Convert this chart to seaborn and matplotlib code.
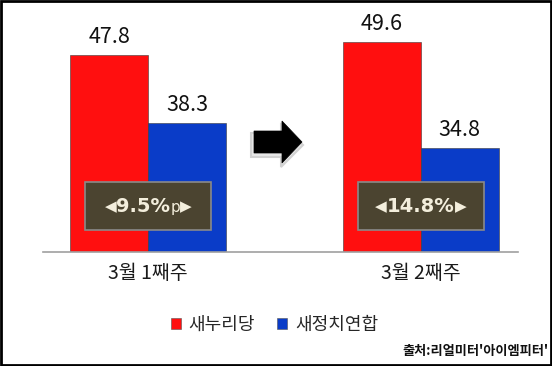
import matplotlib
matplotlib.use("Agg")
import matplotlib.pyplot as plt
import matplotlib.patches as mpatches
from matplotlib.offsetbox import TextArea, HPacker, AnnotationBbox
import seaborn as sns
import pandas as pd

# ---- data ----
weeks = ["3월 1째주", "3월 2째주"]
parties = ["새누리당", "새정치연합"]
saenuri = [47.8, 49.6]
saejeongchi = [38.3, 34.8]
gap_values = ["9.5%", "14.8%"]
gap_units = ["p", ""]
source_text = "출처:리얼미터'아이엠피터'"
colors = ["#FF0F0F", "#0A3CC8"]

df = pd.DataFrame({
    "week": weeks * 2,
    "party": [parties[0]] * 2 + [parties[1]] * 2,
    "value": saenuri + saejeongchi,
})

sns.set_theme(style="white")
plt.rcParams["font.family"] = ["Noto Sans CJK KR", "DejaVu Sans"]

fig = plt.figure(figsize=(5.52, 3.66), dpi=100)
ax = fig.add_axes([0.078, 0.311, 0.86, 0.64])

sns.barplot(data=df, x="week", y="value", hue="party", order=weeks,
            hue_order=parties, palette=colors, width=0.57, saturation=1,
            edgecolor="#3a3a3a", linewidth=0.4, ax=ax, legend=True)

ax.set_ylim(20.3, 53)
ax.set_xlim(-0.385, 1.355)
ax.set_xlabel("")
ax.set_ylabel("")
ax.set_yticks([])
for s in ["left", "right", "top"]:
    ax.spines[s].set_visible(False)
ax.spines["bottom"].set_color("#a0a0a0")
ax.spines["bottom"].set_linewidth(1.2)
ax.tick_params(axis="x", which="major", length=0, pad=8, labelsize=14,
               colors="#1a1a1a")
for lab in ax.get_xticklabels():
    lab.set_fontweight("medium")
ax.set_xticks([0.5], minor=True)
ax.tick_params(axis="x", which="minor", length=4, width=1, color="#a0a0a0",
               direction="out")

# value labels
for cont in ax.containers:
    ax.bar_label(cont, fmt="%.1f", padding=5, fontsize=15.5, color="#111111")

# gap boxes
bw = 126 / 273.0
bh = 48 / 7.16
txtc = "#F3EEDC"
for i, (val, unit) in enumerate(zip(gap_values, gap_units)):
    cy = 26.7
    rect = mpatches.Rectangle((i - bw / 2, cy - bh / 2), bw, bh,
                              facecolor="#4B4430", edgecolor="#8a8a8a",
                              linewidth=1.2, zorder=5)
    ax.add_patch(rect)
    inner = [TextArea(val, textprops=dict(fontsize=14, color=txtc,
                                          fontweight="bold",
                                          family=["DejaVu Sans"]))]
    if unit:
        inner.append(TextArea(unit, textprops=dict(fontsize=11, color=txtc,
                                                   family=["DejaVu Sans"])))
    mid = HPacker(children=inner, align="baseline", pad=0, sep=0)
    tri = dict(fontsize=11, color=txtc, family=["DejaVu Sans"])
    pack = HPacker(children=[TextArea("◀", textprops=tri), mid,
                             TextArea("▶", textprops=tri)],
                   align="center", pad=0, sep=0)
    ab = AnnotationBbox(pack, (i, cy), xycoords="data", frameon=False,
                        box_alignment=(0.5, 0.5), zorder=6)
    ax.add_artist(ab)

# arrow between groups (figure coords)
def fx(px):
    return px / 552.0

def fy(py):
    return 1 - py / 366.0

shadow = mpatches.FancyArrow(fx(251), fy(145), fx(303) - fx(251), 0,
                             width=(24 / 366.0), head_width=(44 / 366.0),
                             head_length=fx(22), length_includes_head=True,
                             transform=fig.transFigure, facecolor="#e8e8e8",
                             edgecolor="#d2d2d2", linewidth=1.5, zorder=3)
fig.patches.append(shadow)
arrow = mpatches.FancyArrow(fx(254), fy(142), fx(302) - fx(254), 0,
                            width=(22 / 366.0), head_width=(42 / 366.0),
                            head_length=fx(20), length_includes_head=True,
                            transform=fig.transFigure, facecolor="#000000",
                            edgecolor="#000000", linewidth=0.5, zorder=4)
fig.patches.append(arrow)

# legend
handles = [mpatches.Patch(facecolor=c, edgecolor="#555555", linewidth=0.4)
           for c in colors]
ax.legend(handles, parties, loc="center", bbox_to_anchor=(0.497, 0.112),
          bbox_transform=fig.transFigure, ncol=2, frameon=False,
          fontsize=13, handlelength=0.55, handleheight=0.55,
          handletextpad=0.45, columnspacing=1.2)

# source
fig.text(0.993, 0.04, source_text, ha="right", va="center", fontsize=9.5,
         fontweight="bold", color="#111111")

# border
border = mpatches.Rectangle((0.002, 0.003), 0.996, 0.994, fill=False,
                            edgecolor="black", linewidth=2,
                            transform=fig.transFigure, zorder=10)
fig.patches.append(border)

fig.savefig("out.png", dpi=100)
